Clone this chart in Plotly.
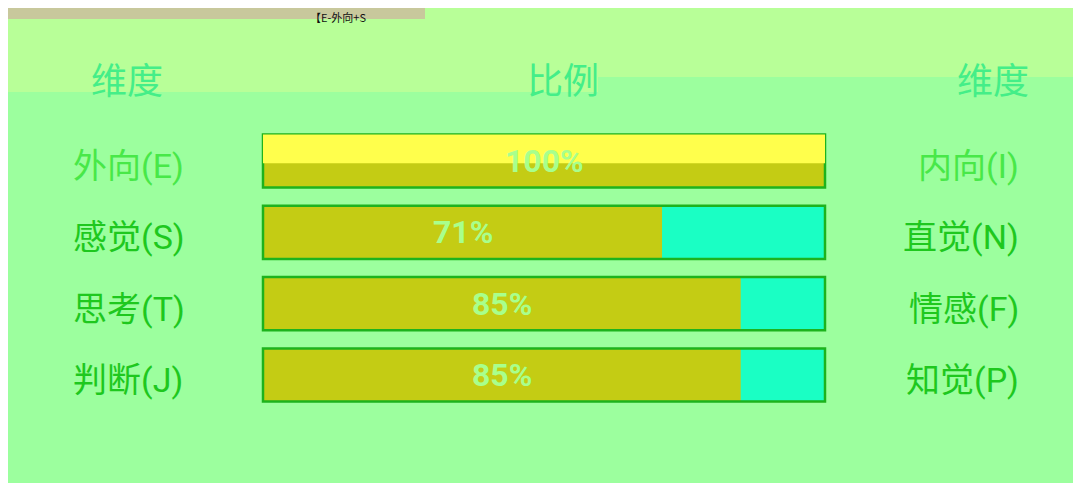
import plotly.graph_objects as go

left_labels = ["外向(E)", "感觉(S)", "思考(T)", "判断(J)"]
right_labels = ["内向(I)", "直觉(N)", "情感(F)", "知觉(P)"]
left_pct = [100, 71, 85, 85]
headers = ["维度", "比例", "维度"]
title_text = "【E-外向+S"

rows = list(range(len(left_pct)))
full = [100] * len(left_pct)

# figure area (the page adds an 8px body margin on the left/top)
W, H = 1073, 475
px_per_unit = 5.62
x_left_px = 255
xr = [-x_left_px / px_per_unit, (W - x_left_px) / px_per_unit]
row_px = 71.33
row0_px = 153
yr = [(H - row0_px) / row_px, -row0_px / row_px]
bw = 0.745
label_dy = 5 / row_px

BG = "#9cff9e"
BAND = "#b8ff98"
OLIVE = "#c4cc14"
CYAN = "#1affc4"
EDGE = "#1db31d"
FONT = "Roboto, Noto Sans CJK SC"

fig = go.Figure()
fig.add_trace(go.Bar(y=rows, x=full, orientation="h", width=bw,
                     marker=dict(color=CYAN, line=dict(width=0)),
                     hoverinfo="skip"))
fig.add_trace(go.Bar(y=rows, x=left_pct, orientation="h", width=bw,
                     marker=dict(color=OLIVE, line=dict(width=0)),
                     hoverinfo="skip"))
fig.add_trace(go.Bar(y=rows, x=full, orientation="h", width=bw,
                     marker=dict(color="rgba(0,0,0,0)", line=dict(width=2.5, color=EDGE)),
                     hoverinfo="skip"))

shapes = [
    # lighter header band (left part deeper than right part)
    dict(type="rect", xref="paper", yref="paper", x0=0, x1=1, y0=1 - 69 / H, y1=1,
         fillcolor=BAND, line_width=0, layer="below"),
    dict(type="rect", xref="paper", yref="paper", x0=0, x1=590 / W, y0=1 - 84 / H, y1=1,
         fillcolor=BAND, line_width=0, layer="below"),
    # beige top strip
    dict(type="rect", xref="paper", yref="paper", x0=0, x1=417 / W, y0=1 - 11 / H, y1=1,
         fillcolor="#c8c89c", line_width=0, layer="below"),
    # yellow glitch on first bar
    dict(type="rect", xref="x", yref="y", x0=0, x1=full[0],
         y0=rows[0] - bw / 2, y1=rows[0] + 0.03,
         fillcolor="#ffff4c", line_width=0, layer="above"),
]

annotations = []
for i, (l, r) in enumerate(zip(left_labels, right_labels)):
    c = "#48e848" if i == 0 else "#1ec81e"
    annotations.append(dict(x=63 / W, y=rows[i] + label_dy, xref="paper", yref="y", text=l,
                            showarrow=False, xanchor="left", yanchor="middle",
                            font=dict(family=FONT, size=34, color=c)))
    annotations.append(dict(x=1013 / W, y=rows[i] + label_dy, xref="paper", yref="y", text=r,
                            showarrow=False, xanchor="right", yanchor="middle",
                            font=dict(family=FONT, size=34, color=c)))
    annotations.append(dict(x=left_pct[i] / 2, y=rows[i], xref="x", yref="y",
                            text=f"<b>{left_pct[i]}%</b>", showarrow=False,
                            xanchor="center", yanchor="middle",
                            font=dict(family="Roboto", size=32, color="#a8ff8c")))

hdr_x = [119 / W, 555 / W, 985 / W]
for t, hx in zip(headers, hdr_x):
    annotations.append(dict(x=hx, y=1 - 70 / H, xref="paper", yref="paper", text=t,
                            showarrow=False, xanchor="center", yanchor="middle",
                            font=dict(family="Noto Sans CJK SC", size=36, color="#44ee88")))

annotations.append(dict(x=330 / W, y=1, xref="paper", yref="paper", text=title_text,
                        showarrow=False, xanchor="center", yanchor="top", borderpad=0,
                        font=dict(family="Noto Sans CJK SC", size=11, color="#111111")))

fig.update_layout(
    width=W, height=H, margin=dict(l=0, r=0, t=0, b=0),
    paper_bgcolor=BG, plot_bgcolor=BG, barmode="overlay", showlegend=False,
    xaxis=dict(range=xr, visible=False, fixedrange=True),
    yaxis=dict(range=yr, visible=False, fixedrange=True),
    shapes=shapes, annotations=annotations,
)

fig.write_html("out.html")
